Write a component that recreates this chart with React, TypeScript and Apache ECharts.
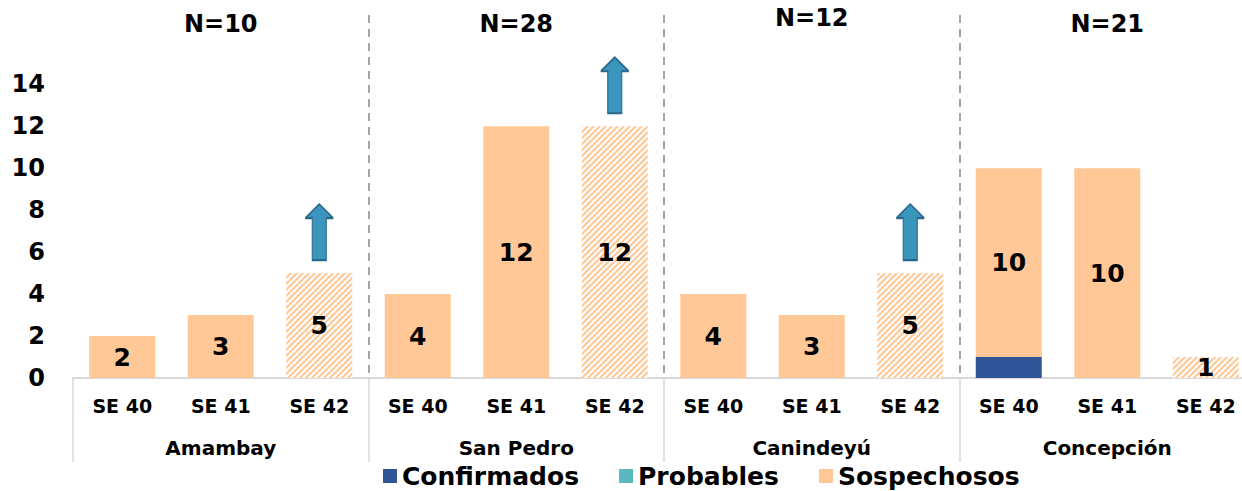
import React, { useEffect, useRef } from "react";
import * as echarts from "echarts";

const weeks = ["SE 40", "SE 41", "SE 42"];
const regions = ["Amambay", "San Pedro", "Canindeyú", "Concepción"];
const regionTotals = ["N=10", "N=28", "N=12", "N=21"];
const categories = regions.flatMap(() => weeks);
const confirmados = [0, 0, 0, 0, 0, 0, 0, 0, 0, 1, 0, 0];
const probables = [0, 0, 0, 0, 0, 0, 0, 0, 0, 0, 0, 0];
const sospechosos = [2, 3, 5, 4, 12, 12, 4, 3, 5, 9, 10, 1];
const barLabels = [2, 3, 5, 4, 12, 12, 4, 3, 5, 10, 10, 1];
const partialWeek = [false, false, true, false, false, true, false, false, true, false, false, true];
const arrowIndices = [2, 5, 8];

const FONT = "DejaVu Sans";
const PEACH = "#FFC896";

function makeHatch() {
  const c = document.createElement("canvas");
  c.width = 6;
  c.height = 6;
  const ctx = c.getContext("2d")!;
  ctx.fillStyle = "#ffffff";
  ctx.fillRect(0, 0, 6, 6);
  ctx.strokeStyle = PEACH;
  ctx.lineWidth = 2.2;
  ctx.beginPath();
  ctx.moveTo(-1, 7);
  ctx.lineTo(7, -1);
  ctx.moveTo(-1, 1);
  ctx.lineTo(1, -1);
  ctx.moveTo(5, 7);
  ctx.lineTo(7, 5);
  ctx.stroke();
  return c;
}

export default function App() {
  const ref = useRef<HTMLDivElement>(null);
  useEffect(() => {
    if (!ref.current) return;
    const chart = echarts.init(ref.current, undefined, { renderer: "svg" });
    const hatch = makeHatch();
    const arrowPath = "path://M14,0 L28,14 L21,14 L21,56 L7,56 L7,14 L0,14 Z";
    const option: any = {
      animation: false,
      textStyle: { fontFamily: FONT, fontWeight: "bold", color: "#000" },
      grid: { left: 73, width: 1182, top: 15, height: 363, outerBoundsMode: "none", containLabel: false },
      legend: {
        left: 378,
        top: 457,
        icon: "rect",
        itemWidth: 14,
        itemHeight: 14,
        itemGap: 40,
        textStyle: { fontSize: 25, fontWeight: "bold", fontFamily: FONT, color: "#000", lineHeight: 28 },
        data: ["Confirmados", "Probables", "Sospechosos"],
      },
      xAxis: [
        {
          type: "category",
          data: categories,
          position: "bottom",
          axisLine: { show: true, lineStyle: { color: "#d9d9d9", width: 2 } },
          axisTick: { show: false },
          axisLabel: { fontSize: 19, fontWeight: "bold", color: "#000", margin: 18, fontFamily: FONT },
        },
        {
          type: "category",
          data: regions,
          position: "bottom",
          axisLine: { show: false },
          axisTick: { show: true, length: 84, lineStyle: { color: "#d9d9d9", width: 1.5 } },
          axisLabel: { fontSize: 20, fontWeight: "bold", color: "#000", margin: 60, fontFamily: FONT },
          splitLine: {
            show: true,
            lineStyle: {
              color: ["rgba(0,0,0,0)", "#a6a6a6", "#a6a6a6", "#a6a6a6", "rgba(0,0,0,0)"],
              type: [8, 6],
              width: 2,
            },
          },
        },
        {
          type: "category",
          data: regionTotals.map((t, i) =>
            i === 2 ? { value: t, textStyle: { padding: [0, 0, 6, 0] } } : t
          ),
          position: "top",
          axisLine: { show: false },
          axisTick: { show: false },
          axisLabel: { fontSize: 24, fontWeight: "bold", color: "#000", margin: -21, fontFamily: FONT },
        },
      ],
      yAxis: {
        type: "value",
        min: 0,
        max: 17.3,
        interval: 2,
        axisLine: { show: false },
        axisTick: { show: false },
        splitLine: { show: false },
        axisLabel: {
          fontSize: 24,
          fontWeight: "bold",
          color: "#000",
          margin: 28,
          fontFamily: FONT,
          formatter: (v: number) => (v <= 14 ? String(v) : ""),
        },
      },
      series: [
        {
          name: "Confirmados",
          type: "bar",
          stack: "t",
          barWidth: "67%",
          itemStyle: { color: "#2F5597" },
          data: confirmados,
        },
        {
          name: "Probables",
          type: "bar",
          stack: "t",
          barWidth: "67%",
          itemStyle: { color: "#5BB8C1" },
          data: probables,
        },
        {
          name: "Sospechosos",
          type: "bar",
          stack: "t",
          barWidth: "67%",
          itemStyle: { color: PEACH },
          label: {
            show: true,
            position: "inside",
            fontSize: 25,
            fontWeight: "bold",
            color: "#000",
            fontFamily: FONT,
            formatter: (p: any) => String(barLabels[p.dataIndex]),
          },
          data: sospechosos.map((v, i) =>
            partialWeek[i]
              ? { value: v, itemStyle: { color: { image: hatch, repeat: "repeat" } } }
              : v
          ),
          markPoint: {
            symbol: arrowPath,
            symbolSize: [28, 56],
            symbolOffset: [0, -41],
            label: { show: false },
            itemStyle: { color: "#3A96BD", borderColor: "#286888", borderWidth: 1.5 },
            data: arrowIndices.map((i) => ({ coord: [i, sospechosos[i] + confirmados[i]] })),
          },
        },
      ],
    };
    chart.setOption(option);
    return () => chart.dispose();
  }, []);
  return (
    <div
      ref={ref}
      style={{ position: "fixed", left: 0, top: 0, width: 1242, height: 491, background: "#fff" }}
    />
  );
}
